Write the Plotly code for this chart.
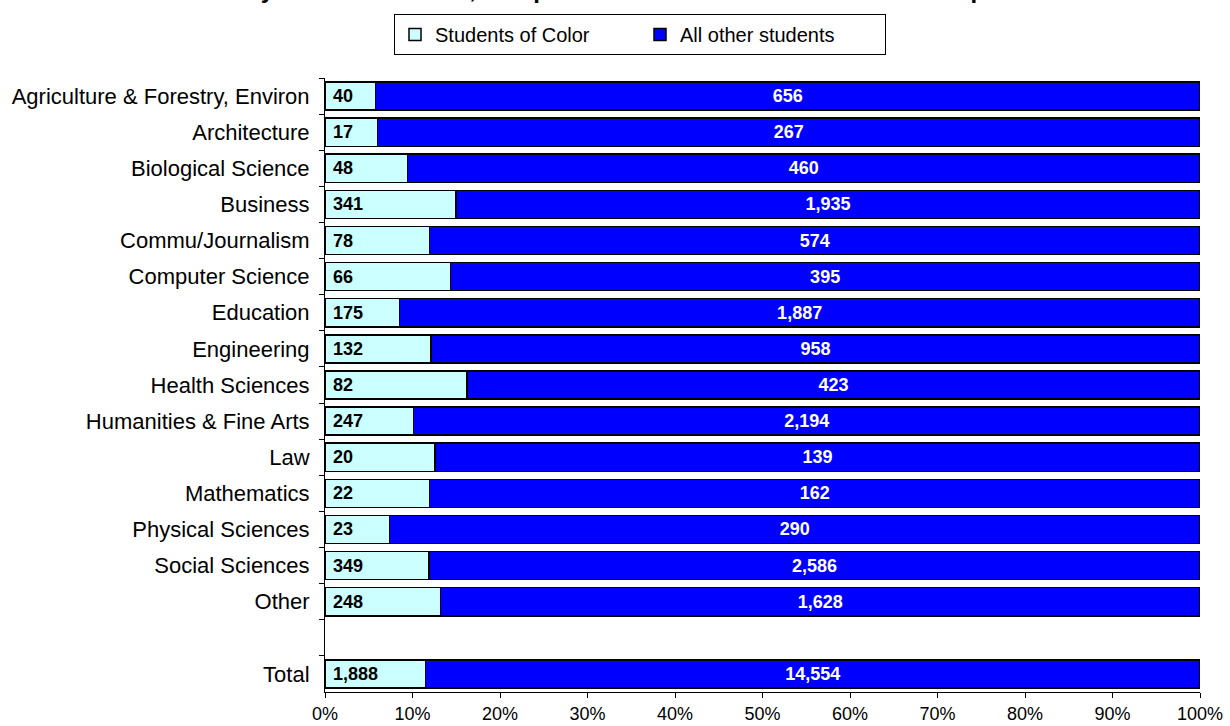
import plotly.graph_objects as go

categories = [
    "Agriculture & Forestry, Environ", "Architecture", "Biological Science",
    "Business", "Commu/Journalism", "Computer Science", "Education",
    "Engineering", "Health Sciences", "Humanities & Fine Arts", "Law",
    "Mathematics", "Physical Sciences", "Social Sciences", "Other", " ", "Total",
]
students_of_color = [40, 17, 48, 341, 78, 66, 175, 132, 82, 247, 20, 22, 23, 349, 248, None, 1888]
all_other_students = [656, 267, 460, 1935, 574, 395, 1887, 958, 423, 2194, 139, 162, 290, 2586, 1628, None, 14554]
x_tick_vals = [0, 10, 20, 30, 40, 50, 60, 70, 80, 90, 100]
x_tick_text = [f"{v}%" for v in x_tick_vals]
title_text = "by Academic Fields, Recipients and Racial/Ethnic Student Group"

FONT = "Liberation Sans, Arial, sans-serif"

L, R, T, B = 325, 30, 78, 34
PW = 1230 - L - R
PH = 726 - T - B


def fmt(vals, pad=""):
    return ["" if v is None else f"{pad}{v:,}" for v in vals]


fig = go.Figure()
fig.add_trace(go.Bar(
    y=categories, x=students_of_color, orientation="h", name="Students of Color",
    marker=dict(color="#CCFFFF", line=dict(color="black", width=1.5)),
    text=fmt(students_of_color, "\u00a0"), textposition="inside", insidetextanchor="start",
    textfont=dict(family=FONT, size=18, color="black", weight="bold"),
    textangle=0, constraintext="none", width=0.78,
))
fig.add_trace(go.Bar(
    y=categories, x=all_other_students, orientation="h", name="All other students",
    marker=dict(color="#0000FF", line=dict(color="black", width=1.5)),
    text=fmt(all_other_students), textposition="inside", insidetextanchor="middle",
    textfont=dict(family=FONT, size=18, color="white", weight="bold"),
    textangle=0, constraintext="none", width=0.78,
))

fig.add_annotation(
    text=f"<b>{title_text}</b>", xref="paper", yref="paper",
    x=(615 - L) / PW, xanchor="center", y=1 + (T + 10.5) / PH, yanchor="middle",
    showarrow=False, font=dict(family=FONT, size=24, color="black"),
)

fig.update_layout(
    width=1230, height=726,
    margin=dict(l=L, r=R, t=T, b=B, autoexpand=False),
    barmode="stack", barnorm="percent",
    paper_bgcolor="white", plot_bgcolor="white",
    font=dict(family=FONT, size=20, color="black"),
    showlegend=True,
    legend=dict(
        orientation="h", x=(640 - L) / PW, xanchor="center",
        yref="container", y=1 - 14 / 726, yanchor="top",
        bordercolor="black", borderwidth=1, bgcolor="white",
        font=dict(family=FONT, size=20), entrywidth=200, traceorder="normal",
    ),
    xaxis=dict(
        range=[0, 100], tickvals=x_tick_vals, ticktext=x_tick_text, automargin=False,
        showgrid=False, zeroline=False, showline=True, linecolor="black", linewidth=1,
        ticks="outside", ticklen=5, tickcolor="black", tickfont=dict(family=FONT, size=18),
        fixedrange=True,
    ),
    yaxis=dict(
        type="category", categoryorder="array", categoryarray=categories, automargin=False,
        autorange="reversed", showgrid=False, showline=True, linecolor="black", linewidth=1,
        ticks="outside", ticklen=5, tickcolor="black", tickson="boundaries",
        tickfont=dict(family=FONT, size=22), ticklabelstandoff=10,
    ),
)

fig.write_html(
    "out.html",
    config={"displayModeBar": False},
    post_script="document.body.style.margin='0';",
)
